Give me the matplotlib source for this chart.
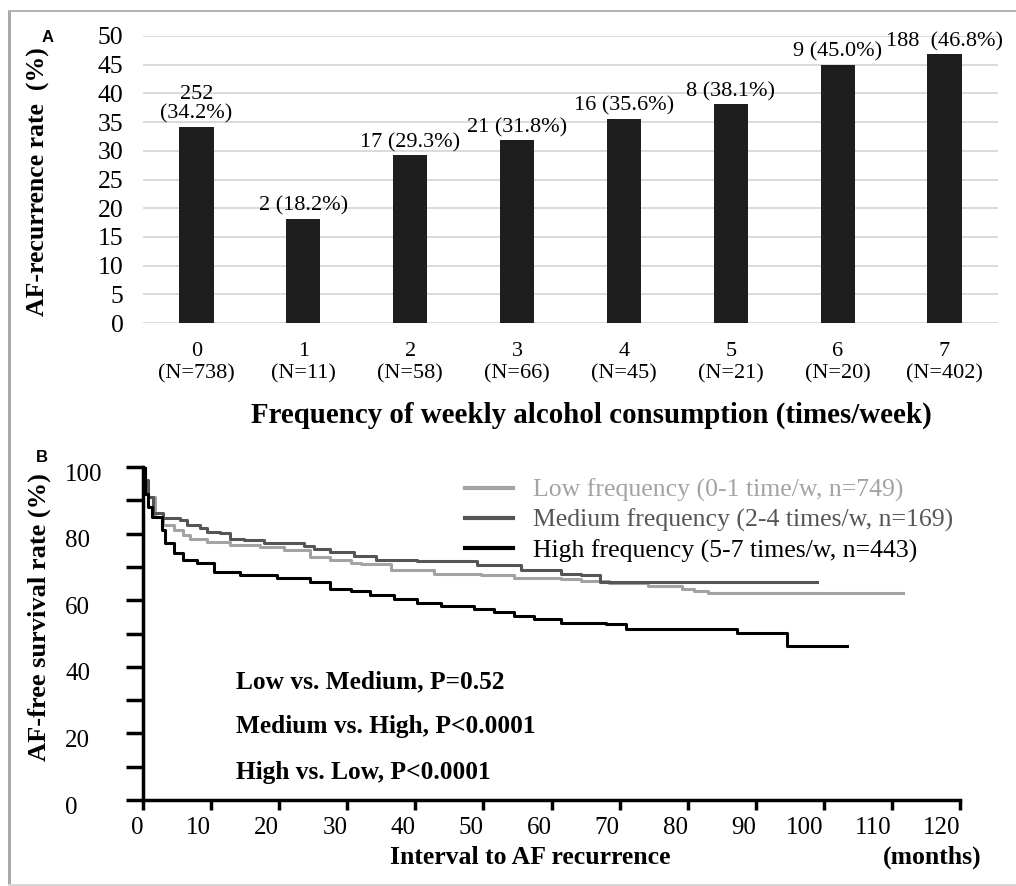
import numpy as np
import matplotlib
matplotlib.use('Agg')
import matplotlib.pyplot as plt
from matplotlib.patches import Rectangle
from matplotlib.transforms import ScaledTranslation

plt.rcParams['font.family'] = ['Liberation Serif', 'DejaVu Serif']
plt.rcParams['font.size'] = 16

# panel A data
freq = ['0', '1', '2', '3', '4', '5', '6', '7']
n_pat = [738, 11, 58, 66, 45, 21, 20, 402]
n_rec = [252, 2, 17, 21, 16, 8, 9, 188]
rate = [34.2, 18.2, 29.3, 31.8, 35.6, 38.1, 45.0, 46.8]
bar_text = ['252\n(34.2%)', '2 (18.2%)', '17 (29.3%)', '21 (31.8%)',
            '16 (35.6%)', '8 (38.1%)', '9 (45.0%)', '188  (46.8%)']

# panel B data: Kaplan-Meier steps (months, %)
low_t = [0, 0.3, 0.8, 1.8, 3.0, 4.5, 5.9, 6.9, 9.4, 12.8, 17.2, 20.7, 24.6,
         27.5, 30.5, 32.0, 36.4, 42.8, 49.6, 54.5, 61.4, 64.4, 68.5, 74.2,
         79.1, 81.0, 83.0, 111.7]
low_s = [100, 95, 91, 85.1, 82.6, 81.1, 79.6, 78.5, 77.5, 76.7, 76.0, 75.1,
         73.1, 72.1, 71.3, 71.0, 69.2, 68.0, 67.6, 66.8, 66.3, 65.9, 65.1,
         64.3, 63.3, 62.9, 62.3, 62.3]
med_t = [0, 0.3, 0.8, 1.5, 3.0, 5.4, 6.4, 8.4, 9.4, 11.3, 12.8, 14.8, 17.7,
         23.6, 25.1, 27.5, 31.0, 34.2, 40.3, 49.1, 55.5, 61.4, 64.4, 67.1, 99.0]
med_s = [100, 96, 91, 86.1, 84.6, 84.1, 82.6, 81.6, 80.6, 80.2, 78.5, 78.1,
         77.3, 76.3, 75.3, 74.6, 73.3, 72.1, 71.8, 70.6, 69.1, 68.0, 67.6,
         65.6, 65.6]
high_t = [0, 0.3, 0.7, 1.3, 2.75, 3.2, 4.5, 5.9, 7.9, 10.4, 14.3, 19.7, 24.6,
          27.5, 30.5, 33.4, 36.9, 40.3, 43.7, 48.6, 51.6, 54.5, 57.5, 61.4,
          68.0, 71.0, 87.2, 94.6, 103.4]
high_s = [100, 92, 88, 85.1, 81.1, 77.1, 74.1, 72.1, 71.1, 68.5, 67.6, 66.6,
          65.6, 63.5, 62.7, 61.7, 60.3, 59.3, 58.3, 57.4, 56.6, 55.3, 54.3,
          53.3, 53.0, 51.5, 50.2, 46.2, 46.2]

legend_labels = ['Low frequency (0-1 time/w, n=749)',
                 'Medium frequency (2-4 times/w, n=169)',
                 'High frequency (5-7 times/w, n=443)']
p_text = ['Low vs. Medium, P=0.52',
          'Medium vs. High, P<0.0001',
          'High vs. Low, P<0.0001']

W, H = 1016, 886
fig = plt.figure(figsize=(W / 100, H / 100), dpi=100)


def fx(px):
    return px / W


def fy(py):
    return 1 - py / H


# ---------------- panel A ----------------
axA = fig.add_axes([fx(143), fy(323), fx(998) - fx(143), fy(36) - fy(323)])
x = np.arange(len(freq))
axA.bar(x, rate, width=0.32, color='#1e1e1e', zorder=3)
axA.set_xlim(-0.5, 7.5)
axA.set_ylim(0, 50)
axA.set_yticks(np.arange(0, 51, 5))
axA.yaxis.grid(True, color='#d4d4d4', lw=1.2, zorder=0)
for s in axA.spines.values():
    s.set_visible(False)
axA.tick_params(axis='y', length=0, pad=14, labelsize=18.5)
axA.tick_params(axis='x', length=0, pad=14, labelsize=16)
axA.set_xticks(x)
axA.set_xticklabels([f'{f}\n(N={n})' for f, n in zip(freq, n_pat)],
                    linespacing=1.2)
for xi, r, t in zip(x, rate, bar_text):
    axA.annotate(t, (xi, r), xytext=(0, 2), textcoords='offset points',
                 ha='center', va='bottom', fontsize=16, linespacing=1.05)

fig.text(fx(591), fy(415), 'Frequency of weekly alcohol consumption (times/week)',
         ha='center', va='center', fontsize=20.8, fontweight='bold')
fig.text(fx(38), fy(182), 'AF-recurrence rate  (%)', rotation=90,
         ha='center', va='center', fontsize=18.5, fontweight='bold')
fig.text(fx(48), fy(37), 'A', ha='center', va='center', fontsize=12,
         fontweight='bold', family='Liberation Sans')

# ---------------- panel B ----------------
axB = fig.add_axes([fx(143), fy(800), fx(960) - fx(143), fy(467) - fy(800)])
axB.step(low_t, low_s, where='post', color='#a3a3a3', lw=2.2,
         label=legend_labels[0])
axB.step(med_t, med_s, where='post', color='#555555', lw=2.2,
         label=legend_labels[1])
axB.step(high_t, high_s, where='post', color='#000000', lw=2.2,
         label=legend_labels[2])
axB.set_xlim(0, 120)
axB.set_ylim(0, 100)
axB.spines['top'].set_visible(False)
axB.spines['right'].set_visible(False)
for s in ('left', 'bottom'):
    axB.spines[s].set_linewidth(2.5)
axB.set_xticks(np.arange(0, 121, 10))
axB.set_yticks(np.arange(0, 101, 20))
axB.set_yticks(np.arange(10, 100, 20), minor=True)
axB.tick_params(axis='y', which='both', direction='out', length=12, width=2.5,
                pad=44, labelsize=18)
axB.tick_params(axis='x', direction='out', length=7, width=2.5, pad=5,
                labelsize=18)
for lab in axB.get_yticklabels():
    lab.set_horizontalalignment('left')
    lab.set_transform(lab.get_transform() +
                      ScaledTranslation(0, -5 / 100, fig.dpi_scale_trans))
for lab in axB.get_xticklabels():
    lab.set_horizontalalignment('right')

leg = axB.legend(loc='upper left', bbox_to_anchor=(fx(465), fy(479)),
                 bbox_transform=fig.transFigure, frameon=False, fontsize=18.5,
                 handlelength=1.87, handletextpad=0.78, labelspacing=0.26,
                 borderpad=0, borderaxespad=0, labelcolor='linecolor')
for ln in leg.get_lines():
    ln.set_linewidth(3)

for py, t in zip([682, 727, 772], p_text):
    fig.text(fx(236), fy(py), t, ha='left', va='center', fontsize=18.3,
             fontweight='bold')

fig.text(fx(530), fy(857), 'Interval to AF recurrence', ha='center',
         va='center', fontsize=18.5, fontweight='bold')
fig.text(fx(982), fy(857), '(months)', ha='right', va='center',
         fontsize=18.5, fontweight='bold')
fig.text(fx(39), fy(617), 'AF-free survival rate (%)', rotation=90,
         ha='center', va='center', fontsize=19, fontweight='bold')
fig.text(fx(42), fy(458), 'B', ha='center', va='center', fontsize=12,
         fontweight='bold', family='Liberation Sans')

# outer frame of the figure panel
fig.add_artist(Rectangle((fx(8), fy(886)), fx(3), fy(10) - fy(886),
                         transform=fig.transFigure, color='#a9a9a9', lw=0))
fig.add_artist(Rectangle((fx(8), fy(12)), 1 - fx(8), fy(10) - fy(12),
                         transform=fig.transFigure, color='#b4b4b4', lw=0))
fig.add_artist(Rectangle((fx(8), fy(886)), 1 - fx(8), fy(884) - fy(886),
                         transform=fig.transFigure, color='#d6d6d6', lw=0))

fig.savefig('out.png', dpi=100)
